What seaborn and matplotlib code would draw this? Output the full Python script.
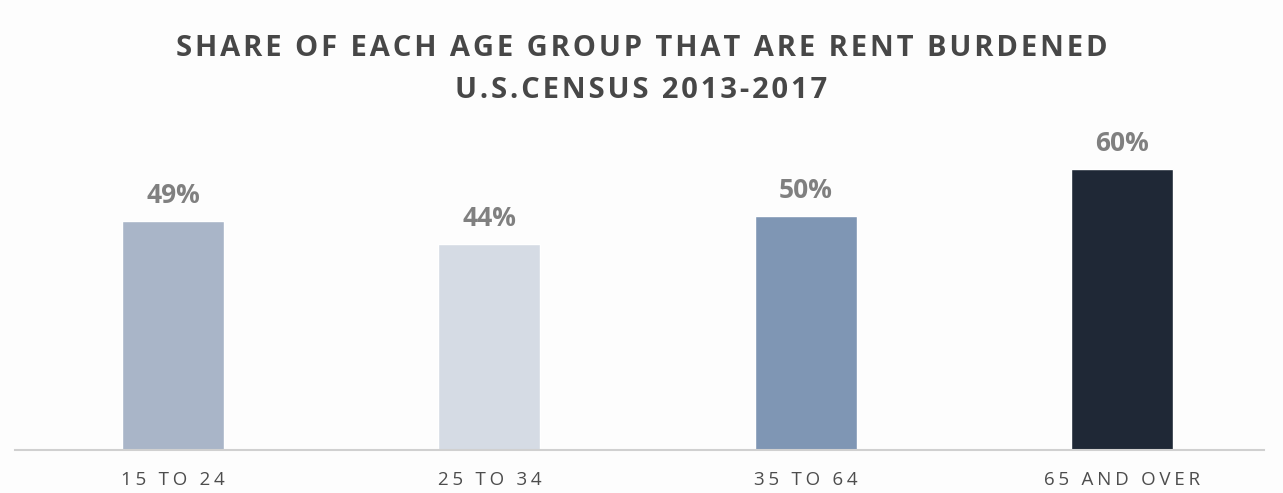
import matplotlib
matplotlib.use("Agg")
import matplotlib.pyplot as plt
import seaborn as sns
import pandas as pd

# Share of renters paying 30%+ of income on rent, by age group
age_groups = ["15 TO 24", "25 TO 34", "35 TO 64", "65 AND OVER"]
share_pct = [49, 44, 50, 60]
bar_colors = ["#a9b5c8", "#d5dbe4", "#7f96b4", "#1f2836"]

title_lines = ["SHARE OF EACH AGE GROUP THAT ARE RENT BURDENED", "U.S.CENSUS 2013-2017"]

sns.set_theme(style="white")
plt.rcParams["font.family"] = ["Open Sans", "DejaVu Sans"]

HAIR = "\u200a"


def spaced(text, n=1):
    """Widen tracking by putting hair spaces between characters."""
    return (HAIR * n).join(text)


df = pd.DataFrame({"age": age_groups, "share": share_pct})

fig = plt.figure(figsize=(12.83, 4.93), dpi=100)
fig.patch.set_facecolor("#fdfdfd")
ax = fig.add_axes([15 / 1283, 0.0872, 1265 / 1283, 0.6166])
ax.set_facecolor("#fdfdfd")

sns.barplot(data=df, x="age", y="share", hue="age", palette=bar_colors,
            width=0.323, legend=False, ax=ax, saturation=1)

ax.set_xlim(-0.5, 3.5)
ax.set_ylim(0, 65)
ax.set_xlabel("")
ax.set_ylabel("")
ax.set_yticks([])
ax.set_xticks(range(len(age_groups)))
ax.set_xticklabels([spaced(a, 2) for a in age_groups], fontsize=13.5,
                   color="#4d4d4d")
ax.tick_params(axis="x", length=0, pad=15)

for s in ["top", "right", "left"]:
    ax.spines[s].set_visible(False)
ax.spines["bottom"].set_color("#d0d0d0")
ax.spines["bottom"].set_linewidth(1.5)
ax.spines["bottom"].set_bounds(-0.5, 3.45)

for i, v in enumerate(share_pct):
    ax.text(i, v + 2.6, f"{v}%", ha="center", va="bottom", fontsize=19,
            fontweight="bold", color="#808080")

fig.text(0.5, 1 - 48 / 493, spaced(title_lines[0], 1), ha="center", va="center",
         fontsize=21, fontweight="bold", color="#474747")
fig.text(0.5, 1 - 91 / 493, spaced(title_lines[1], 1), ha="center", va="center",
         fontsize=21, fontweight="bold", color="#474747")

fig.savefig("out.png", dpi=100, facecolor=fig.get_facecolor())
